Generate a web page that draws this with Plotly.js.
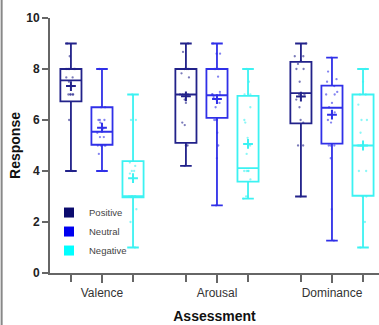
<!DOCTYPE html>
<html><head><meta charset="utf-8">
<script src="https://cdn.plot.ly/plotly-3.0.1.min.js"></script>
<style>html,body{margin:0;padding:0;background:#fff}#chart{width:379px;height:325px}</style>
</head><body><div id="chart"></div>
<script>
const categories = ['Valence', 'Arousal', 'Dominance'];
const groups = ['Positive', 'Neutral', 'Negative'];

// box statistics per group, in category order
const posQ1 = [6.73, 5.1, 5.87];
const posMedian = [7.55, 7.0, 7.05];
const posQ3 = [8.0, 8.0, 8.28];
const posMin = [4.0, 4.2, 3.0];
const posMax = [9.0, 9.0, 9.0];
const posMean = [7.33, 6.93, 6.92];

const neuQ1 = [5.03, 6.08, 5.07];
const neuMedian = [5.54, 6.97, 6.48];
const neuQ3 = [6.5, 8.0, 7.35];
const neuMin = [4.0, 2.65, 1.27];
const neuMax = [8.0, 9.0, 8.45];
const neuMean = [5.7, 6.82, 6.21];

const negQ1 = [2.97, 3.58, 3.03];
const negMedian = [3.0, 4.11, 5.0];
const negQ3 = [4.39, 6.95, 7.0];
const negMin = [1.0, 2.92, 1.0];
const negMax = [7.0, 8.0, 8.0];
const negMean = [3.72, 5.06, 5.0];

// individual responses
const posPoints = [
  [9, 8.5, 8, 8, 8, 8, 8, 7.67, 7.67, 7.5, 7.33, 7, 7, 7, 7, 7, 6, 4],
  [9, 8.67, 8, 8, 8, 7.83, 7.67, 7, 7, 7, 7, 6.8, 6.67, 5.9, 5.8, 5, 5, 5, 4.2],
  [9, 8.5, 8.5, 8.33, 8.2, 8, 8, 7.5, 7, 7, 6.8, 6.5, 6, 5.9, 5, 5, 3]
];
const neuPoints = [
  [8, 6.5, 6.5, 6, 6, 6, 5.9, 5.67, 5.5, 5.33, 5.33, 5, 5, 5, 5, 5, 4.67, 4],
  [9, 8.6, 8.6, 8, 8, 8, 7.7, 7.1, 7, 7, 7, 6.9, 6.8, 6.67, 6.5, 6, 6, 6, 5.5, 5, 4.5, 2.65],
  [8.45, 7.9, 7.6, 7.5, 7.33, 7.1, 7, 7, 6.67, 6.5, 6.3, 6, 5.9, 5, 5, 5, 4.5, 2.5, 1.27]
];
const negPoints = [
  [7, 6, 6, 4.33, 4.2, 4, 4, 3.9, 3, 3, 3, 3, 3, 3, 2.5, 2, 1],
  [8, 7.5, 7, 7, 6.5, 6, 5.9, 5.3, 5, 4.67, 4, 4, 4, 4, 3.67, 3, 3, 2.92],
  [8, 7.5, 7, 7, 6.6, 6, 6, 5.5, 5, 5, 5, 4, 4, 3, 3, 2, 1]
];

const lineColors = ['#22228a', '#3030e8', '#3cf2f2'];
const legendColors = ['#0b0b6e', '#0000f0', '#00ffff'];

const stats = [
  {q1: posQ1, med: posMedian, q3: posQ3, lo: posMin, hi: posMax, mean: posMean, pts: posPoints},
  {q1: neuQ1, med: neuMedian, q3: neuQ3, lo: neuMin, hi: neuMax, mean: neuMean, pts: neuPoints},
  {q1: negQ1, med: negMedian, q3: negQ3, lo: negMin, hi: negMax, mean: negMean, pts: negPoints}
];

const boxgap = 0.19, boxgroupgap = 0.32;
const slot = (1 - boxgap) / groups.length;
const xRange = [-0.452, 2.409];

const traces = [];
stats.forEach((s, k) => {
  traces.push({
    type: 'box', name: groups[k], showlegend: false,
    x: categories, q1: s.q1, median: s.med, q3: s.q3,
    lowerfence: s.lo, upperfence: s.hi, y: s.pts,
    boxpoints: 'all', jitter: 0.6, pointpos: 0,
    marker: {color: lineColors[k], size: 2.3, opacity: 0.6},
    line: {color: lineColors[k], width: 1.8},
    fillcolor: 'rgba(255,255,255,0)', whiskerwidth: 0.55,
    hoverinfo: 'y'
  });
});
// mean markers
stats.forEach((s, k) => {
  traces.push({
    type: 'scatter', mode: 'markers', xaxis: 'x2', showlegend: false,
    x: categories.map((c, i) => i + (k - 1) * slot), y: s.mean,
    marker: {symbol: 'cross-thin', size: 7, line: {width: 2, color: lineColors[k]}, color: lineColors[k]}
  });
});
// legend swatches
groups.forEach((g, k) => {
  traces.push({
    type: 'scatter', mode: 'markers', xaxis: 'x2', name: g,
    x: [null], y: [null],
    marker: {symbol: 'square', size: 10, color: legendColors[k]}
  });
});

const tickPositions = [];
categories.forEach((c, i) => { tickPositions.push(i - slot, i + slot); });

const axisColor = '#666';
const layout = {
  width: 379, height: 325,
  margin: {l: 50, r: 0, t: 18, b: 52},
  paper_bgcolor: '#fff', plot_bgcolor: '#fff',
  font: {family: 'Liberation Sans, Arial, sans-serif', color: '#222'},
  boxmode: 'group', boxgap: boxgap, boxgroupgap: boxgroupgap,
  xaxis: {
    type: 'category', range: xRange, showgrid: false, zeroline: false,
    showline: true, linecolor: axisColor, linewidth: 2,
    ticks: 'outside', ticklen: 8, tickwidth: 1.5, tickcolor: axisColor,
    tickfont: {size: 12, color: '#333'},
    title: {text: '<b>Assessment</b>', font: {size: 14, color: '#111'}, standoff: 12}
  },
  xaxis2: {
    overlaying: 'x', anchor: 'y', side: 'bottom', range: xRange,
    showgrid: false, zeroline: false, showline: false,
    tickvals: tickPositions, ticktext: tickPositions.map(() => ''),
    ticks: 'outside', ticklen: 8, tickwidth: 1.5, tickcolor: axisColor
  },
  yaxis: {
    range: [0, 10], tickvals: [0, 2, 4, 6, 8, 10], showgrid: false, zeroline: false,
    showline: true, linecolor: axisColor, linewidth: 2,
    ticks: 'outside', ticklen: 6, tickwidth: 1.5, tickcolor: axisColor,
    tickfont: {size: 12, color: '#222', weight: 'bold'},
    title: {text: '<b>Response</b>', font: {size: 14, color: '#111'}, standoff: 2}
  },
  showlegend: true,
  legend: {
    x: -0.003, y: 0.294, xanchor: 'left', yanchor: 'top',
    bgcolor: 'rgba(0,0,0,0)', font: {size: 9.5, color: '#444'},
    itemwidth: 30, tracegroupgap: 0
  },
  shapes: [{
    type: 'line', xref: 'paper', yref: 'paper',
    x0: -0.147, x1: -0.147, y0: -0.21, y1: 1.08,
    line: {color: '#888', width: 2}
  }]
};

Plotly.newPlot('chart', traces, layout, {displayModeBar: false, staticPlot: true});
</script></body></html>
